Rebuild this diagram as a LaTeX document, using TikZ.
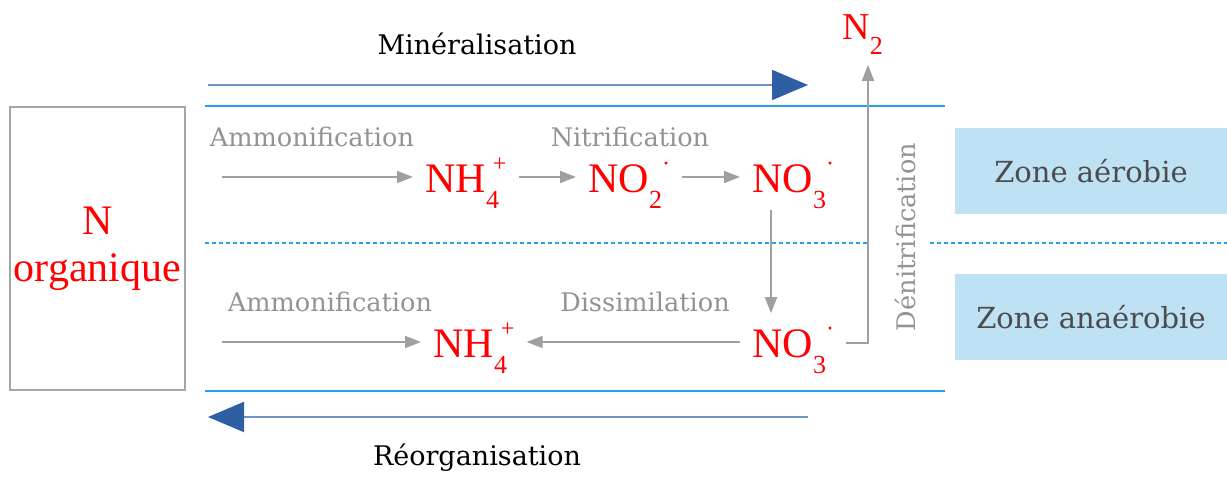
\documentclass[tikz,border=0pt]{standalone}
\usepackage{fontspec}
\setmainfont{Liberation Serif}
\newfontfamily\labfont{DejaVu Serif}
\usetikzlibrary{arrows.meta}
\definecolor{zoneblue}{HTML}{BEE1F4}
\definecolor{lineblue}{HTML}{22A4E6}
\definecolor{arrowblue}{HTML}{2E5FA3}
\definecolor{shaftblue}{HTML}{7090C8}
\newcommand\ionsub[3]{\raisebox{-0.38em}{\fontsize{13}{13}\selectfont#1}\hspace{#3}\raisebox{0.5em}{\fontsize{12}{12}\selectfont#2}}
\tikzset{
 lab/.style={text=gray!85,font=\labfont\fontsize{12.8}{15}\selectfont,inner sep=0pt},
 chem/.style={text=red,font=\fontsize{21}{24}\selectfont,inner xsep=6pt,inner ysep=0pt,anchor=base west},
 garrow/.style={draw=gray!75,line width=0.9pt,-{Triangle[length=8pt,width=6pt]}},
 barrow/.style={draw=shaftblue,line width=1pt,-{Triangle[length=18pt,width=15pt,color=arrowblue]}},
 zone/.style={fill=zoneblue,text=black!70,font=\labfont\fontsize{14.5}{17}\selectfont,minimum width=136pt,minimum height=43pt},
 bord/.style={draw=lineblue,line width=1pt}
}
\begin{document}
\begin{tikzpicture}[x=0.5pt,y=-0.5pt]
\useasboundingbox (0,0) rectangle (1227,480);
% limites des zones
\draw[bord] (205,106) -- (945,106);\draw[bord] (205,391) -- (945,391);
\draw[lineblue,line width=0.8pt,dash pattern=on 2pt off 1.5pt] (205,243) -- (870,243) (930,243) -- (1227,243);
\node[zone] (aero) at (1091,171.5) {Zone aérobie};
\node[zone] (anaero) at (1091,317.5) {Zone anaérobie};
% N organique
\node[draw=gray!70,line width=0.8pt,minimum width=87.5pt,minimum height=141.5pt,text=red,align=center,font=\fontsize{21}{23.5}\selectfont,inner sep=0pt] (norg) at (97.5,248.5) {N\\organique};
% especes
\node[chem] (nh4a) at (413,193) {NH\ionsub{4}{+}{-0.15em}};
\node[chem] (no2) at (576,193) {NO\ionsub{2}{·}{0em}};
\node[chem] (no3a) at (740,193) {NO\ionsub{3}{·}{0em}};
\node[chem] (nh4b) at (421,358) {NH\ionsub{4}{+}{-0.15em}};
\node[chem] (no3b) at (740,358) {NO\ionsub{3}{·}{0em}};
\node[chem,font=\fontsize{19}{22}\selectfont] (ntwo) at (830,40) {N\raisebox{-0.38em}{\fontsize{13}{13}\selectfont 2}};
% textes
\node (miner) at (477,44) {\labfont\fontsize{13.5}{16}\selectfont Minéralisation};
\node (reorg) at (477,458) {\labfont\fontsize{13.5}{16}\selectfont Réorganisation};
\node[lab] (ammoa) at (312,137) {Ammonification};
\node[lab] (nitri) at (630,137) {Nitrification};
\node[lab] (ammob) at (330,302) {Ammonification};
\node[lab] (dissim) at (645,302) {Dissimilation};
\node[lab,rotate=90] (denit) at (905,237) {Dénitrification};
% fleches
\coordinate (ms) at (208,85);\coordinate (me) at (808,85);
\coordinate (rs) at (808,417);\coordinate (re) at (208,417);
\draw[barrow] (ms) -- (me);\draw[barrow] (rs) -- (re);
\coordinate (sa) at (222,177);\coordinate (sb) at (222,342);
\coordinate (vx) at (771,0);\coordinate (dn) at (868,343);
\draw[garrow] (sa) -- (sa-|nh4a.west);
\draw[garrow] (nh4a.east|-sa) -- (no2.west|-sa);
\draw[garrow] (no2.east|-sa) -- (no3a.west|-sa);
\draw[garrow] (no3a.south-|vx) -- ([yshift=7pt]no3b.north-|vx);
\draw[garrow] (sb) -- (sb-|nh4b.west);
\draw[garrow] (no3b.west|-sb) -- (nh4b.east|-sb);
\draw[garrow,shorten >=5pt] (no3b.east|-dn) -- (dn) -- (dn|-ntwo.south);
\end{tikzpicture}
\end{document}
